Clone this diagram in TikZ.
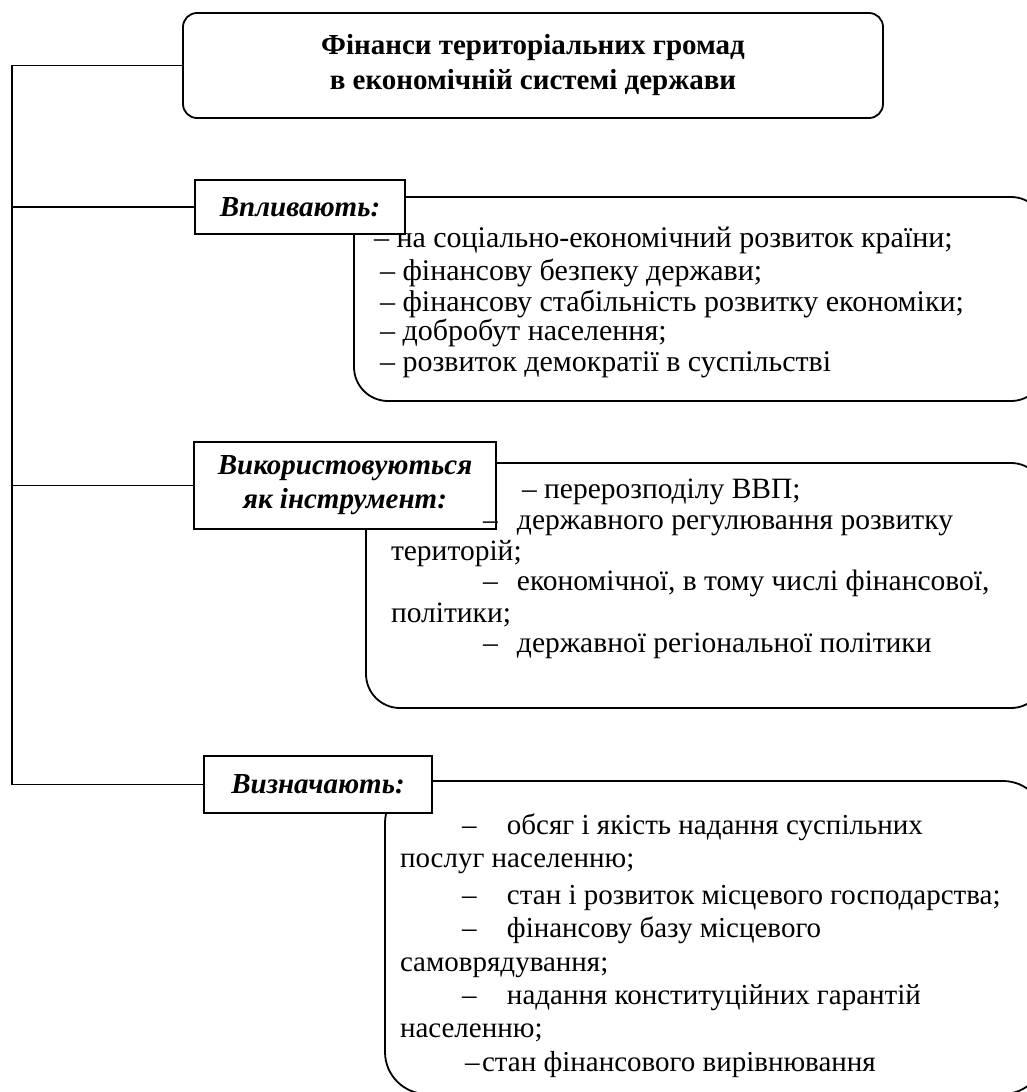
\documentclass[tikz,border=0pt]{standalone}
\usepackage{fontspec}
\setmainfont{Liberation Serif}
\begin{document}
\begin{tikzpicture}[x=1pt,y=-1pt,
  every node/.style={inner sep=0pt, outer sep=0pt},
  frame/.style={draw, line width=1.8pt},
  titlebox/.style={frame, rounded corners=14pt, fill=white, align=center, font=\fontsize{29}{35}\selectfont\bfseries},
  labelbox/.style={frame, fill=white, rectangle, align=center, font=\fontsize{29}{34}\selectfont\bfseries\itshape},
  textbox/.style={frame, rounded corners=34pt},
  conn/.style={line width=1.8pt},
  body/.style={anchor=base west, font=\fontsize{30}{30}\selectfont},
  bodym/.style={anchor=base west, font=\fontsize{29.5}{30}\selectfont},
  bodys/.style={anchor=base west, font=\fontsize{29}{30}\selectfont},
]
\useasboundingbox (0,0) rectangle (1027,1092);
\coordinate (tk) at (12,0);
% text boxes
\node[textbox, minimum width=691pt, minimum height=204pt] (tb1) at (699.5,299) {};
\node[textbox, minimum width=679pt, minimum height=245pt] (tb2) at (705.5,585.5) {};
\node[textbox, minimum width=660pt, minimum height=313pt, rounded corners=42pt] (tb3) at (715,937.5) {};
% title and labels
\node[titlebox, minimum width=700pt, minimum height=105pt] (title) at (533,65.5)
  {Фінанси територіальних громад\\в економічній системі держави};
\node[labelbox, minimum width=210pt, minimum height=54pt] (l1) at (300,207) {Впливають:};
\node[labelbox, minimum width=302pt, minimum height=87pt] (l2) at (345,485.5) {Використовуються\\як інструмент:};
\node[labelbox, minimum width=228pt, minimum height=57pt] (l3) at (318,784.5) {Визначають:};
% connectors
\draw[conn] (title.west) -- (title.west -| tk) -- (l3.west -| tk) -- (l3.west);
\draw[conn] (l1.west -| tk) -- (l1.west);
\draw[conn] (l2.west -| tk) -- (l2.west);
% box 1 text
\node[body] (a1) at (374,247) {– на соціально-економічний розвиток країни;};
\node[body] (a2) at (380,280) {– фінансову безпеку держави;};
\node[body] (a3) at (380,311) {– фінансову стабільність розвитку економіки;};
\node[body] (a4) at (380,340) {– добробут населення;};
\node[body] (a5) at (380,371) {– розвиток демократії в суспільстві};
% box 2 text
\node[bodym] (b1) at (522,498) {– перерозподілу ВВП;};
\node[bodym] (b2) at (483,529) {\makebox[34pt][l]{–}державного регулювання розвитку};
\node[bodym] (b3) at (391,560) {територій;};
\node[bodym] (b4) at (483,590) {\makebox[34pt][l]{–}економічної, в тому числі фінансової,};
\node[bodym] (b5) at (391,622) {політики;};
\node[bodym] (b6) at (483,652) {\makebox[34pt][l]{–}державної регіональної політики};
% box 3 text
\node[bodys] (c1) at (462,834) {\makebox[45pt][l]{–}обсяг і якість надання суспільних};
\node[bodys] (c2) at (400,867) {послуг населенню;};
\node[bodys] (c3) at (462,904) {\makebox[45pt][l]{–}стан і розвиток місцевого господарства;};
\node[bodys] (c4) at (462,937) {\makebox[45pt][l]{–}фінансову базу місцевого};
\node[bodys] (c5) at (400,971) {самоврядування;};
\node[bodys] (c6) at (462,1004) {\makebox[45pt][l]{–}надання конституційних гарантій};
\node[bodys] (c7) at (400,1037) {населенню;};
\node[bodys] (c8) at (465,1071) {\makebox[17pt][l]{–}стан фінансового вирівнювання};
\end{tikzpicture}
\end{document}
